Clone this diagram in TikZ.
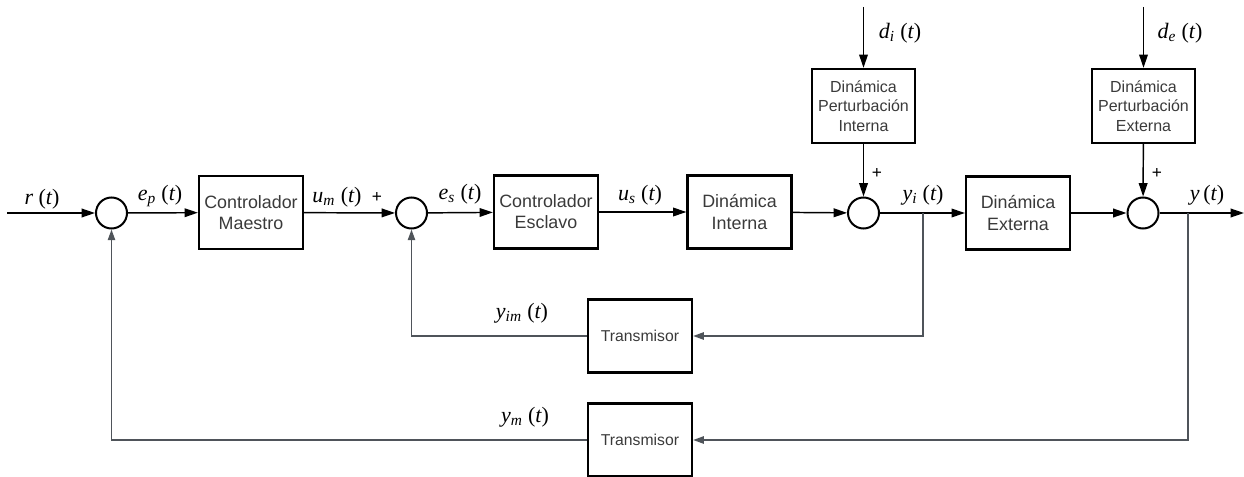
\documentclass[tikz,border=0pt]{standalone}
\usepackage{fontspec}
\setmainfont{Liberation Sans}
\newfontfamily\labfont{Liberation Serif}
\usetikzlibrary{arrows.meta}
\definecolor{boxtext}{HTML}{3A3A3A}
\definecolor{fbline}{HTML}{4F545A}
\newcommand{\sigl}[2]{{\labfont\itshape #1\textsubscript{#2}\ {\upshape(}t{\upshape)}}}
\tikzset{
  blk/.style={draw=black, line width=1.7pt, minimum width=78pt, minimum height=54.75pt, inner sep=1pt, align=center, text=boxtext, font=\fontsize{13.4}{15.8}\selectfont},
  sblk/.style={blk, minimum width=77pt, minimum height=55.5pt, font=\fontsize{12}{14.6}\selectfont},
  tblk/.style={blk, font=\fontsize{11.8}{13}\selectfont},
  sumc/.style={draw=black, circle, line width=1.5pt, minimum size=23.25pt, inner sep=0pt},
  lab/.style={inner sep=0pt, font=\fontsize{16.5}{18}\selectfont},
  plus/.style={inner sep=0pt, font=\fontsize{13}{14}\selectfont},
  main/.style={draw=black, line width=1.1pt, -{Triangle[length=10pt,width=6.5pt]}},
  fb/.style={draw=fbline, line width=1.1pt},
  fba/.style={fb, -{Triangle[length=8pt,width=5.5pt]}}
}
\begin{document}
\begin{tikzpicture}[x=0.75pt,y=-0.75pt]
\useasboundingbox (0,0) rectangle (1244,477);
% nodes
\node[sumc] (s1) at (111.5,213) {};
\node[blk] (cm) at (251,212.5) {Controlador\\Maestro};
\node[sumc] (s2) at (411.5,213) {};
\node[blk] (ce) at (546,212) {Controlador\\Esclavo};
\node[blk] (di) at (739.5,212) {Dinámica\\Interna};
\node[sumc] (s3) at (863.5,213) {};
\node[blk] (de) at (1018,213) {Dinámica\\Externa};
\node[sumc] (s4) at (1143,213) {};
\node[sblk] (dpi) at (863.5,106) {Dinámica\\Perturbación\\Interna};
\node[sblk] (dpe) at (1143.5,106) {Dinámica\\Perturbación\\Externa};
\node[tblk] (t1) at (640,336) {Transmisor};
\node[tblk] (t2) at (640,440) {Transmisor};
% coordinates
\coordinate (rin) at (7,213);
\coordinate (yout) at (1244,213);
\coordinate (dtop) at (863.5,7);
\coordinate (etop) at (1143.5,7);
\coordinate (tapi) at (923,213);
\coordinate (tapo) at (1188,213);
% main path
\draw[main] (rin) -- (s1);
\draw[main] (s1) -- (cm);
\draw[main] (cm) -- (s2);
\draw[main] (s2) -- (ce);
\draw[main] (ce) -- (di);
\draw[main] (di) -- (s3);
\draw[main] (s3) -- (de);
\draw[main] (de) -- (s4);
\draw[main] (s4) -- (yout);
\draw[main] (dtop) -- (dpi);
\draw[main] (etop) -- (dpe);
\draw[main] (dpi) -- (s3);
\draw[main] (dpe) -- (s4);
% feedback
\draw[fba] (tapi) |- (t1);
\draw[fba] (t1.west) -| (s2);
\draw[fba] (tapo) |- (t2);
\draw[fba] (t2.west) -| (s1);
% labels
\node[lab] (lr) at (42,199) {{\labfont\itshape r\ {\upshape(}t{\upshape)}}};
\node[lab] (lep) at (160,196) {\sigl{e}{p}};
\node[lab] (lum) at (337,197) {\sigl{u}{m}};
\node[plus] (p2) at (377,197) {+};
\node[lab] (les) at (460,194) {\sigl{e}{s}};
\node[lab] (lus) at (640,195) {\sigl{u}{s}};
\node[lab] (ldi) at (900,33) {\sigl{d}{i}};
\node[lab] (lde) at (1180,33) {\sigl{d}{e}};
\node[plus] (p3) at (877,173) {+};
\node[plus] (p4) at (1157,173) {+};
\node[lab] (lyi) at (923,195) {\sigl{y}{i}};
\node[lab] (ly) at (1207,195) {{\labfont\itshape y\,{\upshape(}t{\upshape)}}};
\node[lab] (lyim) at (522,313) {\sigl{y}{im}};
\node[lab] (lym) at (525,417) {\sigl{y}{m}};
\end{tikzpicture}
\end{document}
